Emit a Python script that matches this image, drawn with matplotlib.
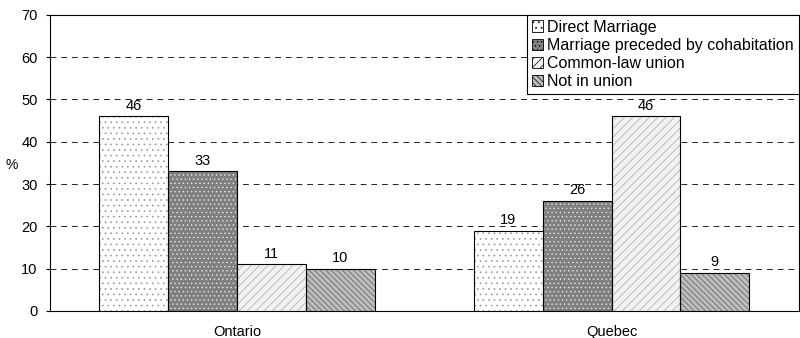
import matplotlib
matplotlib.use("Agg")
import matplotlib.pyplot as plt
import numpy as np

plt.rcParams['font.family'] = ['Liberation Sans', 'DejaVu Sans']
plt.rcParams['font.size'] = 10
plt.rcParams['hatch.linewidth'] = 0.5

regions = ['Ontario', 'Quebec']
series = ['Direct Marriage', 'Marriage preceded by cohabitation',
          'Common-law union', 'Not in union']
direct = [46, 19]
cohab_marriage = [33, 26]
common_law = [11, 46]
not_in_union = [10, 9]
values = [direct, cohab_marriage, common_law, not_in_union]

# fill / hatch for each series, grey-scale print style
faces = ['white', '#808080', '#f2f2f2', '#bdbdbd']
hatches = ['...', '....', '////', '\\\\\\\\\\\\']
hatch_cols = ['#9a9a9a', '#e6e6e6', '#a8a8a8', '#5a5a5a']

fig = plt.figure(figsize=(8, 3.38), dpi=100)
ax = fig.add_axes([0.0625, 0.08, 0.936, 0.876])

x = np.arange(len(regions))
w = 0.184
for i, (name, vals) in enumerate(zip(series, values)):
    pos = x + (i - 1.5) * w
    bars = ax.bar(pos, vals, w, facecolor=faces[i], hatch=hatches[i],
                  edgecolor=hatch_cols[i], linewidth=0, label=name, zorder=3)
    # outline drawn separately so the hatch colour can differ
    ax.bar(pos, vals, w, facecolor='none', edgecolor='black', linewidth=0.8, zorder=4)
    for b, v in zip(bars, vals):
        ax.text(b.get_x() + b.get_width() / 2, v + 0.9, str(v),
                ha='center', va='bottom', fontsize=10.5, zorder=5)

ax.set_xlim(-0.5, 1.5)
ax.set_ylim(0, 70)
ax.set_yticks(range(0, 71, 10))
ax.set_xticks(x)
ax.set_xticklabels(regions)
ax.tick_params(axis='x', length=0, pad=10, labelsize=10.5)
ax.tick_params(axis='y', length=3, direction='out', labelsize=10.5, pad=6)
ax.yaxis.grid(True, linestyle=(0, (6, 5)), color='#222222', linewidth=0.7, zorder=0)
fig.text(12 / 800, 1 - 165 / 338, '%', ha='center', va='center', fontsize=10)
for s in ax.spines.values():
    s.set_linewidth(0.8)

leg = ax.legend(loc='upper right', borderaxespad=0, fontsize=11.5,
                handlelength=0.7, handleheight=0.7, handletextpad=0.25,
                labelspacing=0.2, borderpad=0.3, fancybox=False,
                edgecolor='black', framealpha=1)
leg.get_frame().set_linewidth(0.8)
for h in leg.legend_handles:
    h.set_edgecolor('black')
    h.set_linewidth(0.6)

fig.savefig('out.png', dpi=100)
